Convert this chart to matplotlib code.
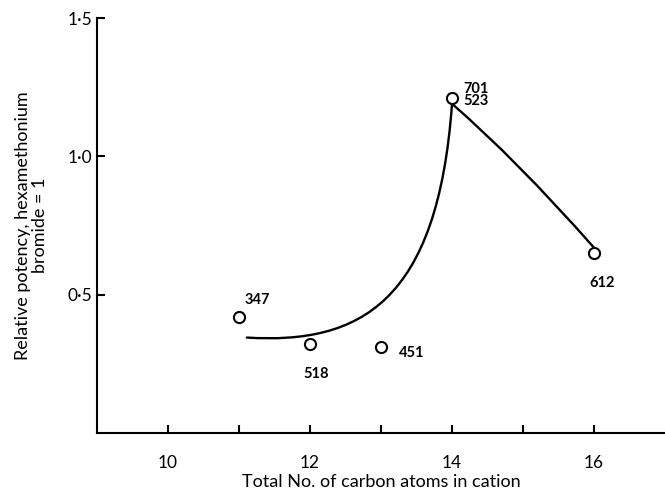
import numpy as np
import matplotlib
matplotlib.use("Agg")
import matplotlib.pyplot as plt
from matplotlib.path import Path
from matplotlib.patches import PathPatch

plt.rcParams['font.family'] = ['Lato', 'DejaVu Sans']

# measured points (carbon atoms, relative potency)
carbons = [11, 12, 13, 14, 16]
potency = [0.42, 0.32, 0.31, 1.21, 0.65]
point_labels = ["347", "518", "451", "701\n523", "612"]

# hand-drawn trend curve as bezier control points
# left branch (cubic): start, ctrl, ctrl, peak ; right branch (quadratic): ctrl, end
curve_x = [11.11, 12.7, 13.8, 14.0, 14.9, 16.0]
curve_y = [0.345, 0.32, 0.47, 1.19, 0.99, 0.67]
curve_codes = [Path.MOVETO, Path.CURVE4, Path.CURVE4, Path.CURVE4,
               Path.CURVE3, Path.CURVE3]

xticks = [10, 12, 14, 16]
xminor = [11, 13, 15]
yticks = [0.5, 1.0, 1.5]
ytick_labels = ["0·5", "1·0", "1·5"]

fig = plt.figure(figsize=(6.65, 4.91), dpi=100)
ax = fig.add_axes([0.1459, 0.1181, 0.8541, 0.8452])

trend = Path(np.column_stack([curve_x, curve_y]), curve_codes)
ax.add_patch(PathPatch(trend, fill=False, edgecolor='black', lw=1.7,
                       capstyle='round'))
ax.plot(carbons, potency, 'o', ms=8, mfc='white', mec='black', mew=1.5, zorder=3)

# label offsets in points
offsets = [(4, 9), (-5, -24), (13, -7), (8, -5), (-3, -24)]
for x, y, t, off in zip(carbons, potency, point_labels, offsets):
    ax.annotate(t, (x, y), xytext=off, textcoords='offset points',
                fontsize=10.5, fontweight='bold', linespacing=0.85)

ax.set_xlim(9, 17)
ax.set_ylim(0, 1.5)
ax.set_xticks(xticks)
ax.set_xticks(xminor, minor=True)
ax.set_yticks(yticks)
ax.set_yticklabels(ytick_labels)
ax.tick_params(axis='both', direction='in', labelsize=12.5, width=1.5, length=6)
ax.tick_params(axis='x', which='minor', direction='in', width=1.5, length=6)
ax.tick_params(axis='x', pad=16)

for s in ['top', 'right']:
    ax.spines[s].set_visible(False)
for s in ['left', 'bottom']:
    ax.spines[s].set_linewidth(1.5)

ax.set_xlabel("Total No. of carbon atoms in cation", fontsize=13, labelpad=2)
ax.set_ylabel("Relative potency, hexamethonium\nbromide = 1", fontsize=13,
              labelpad=14, linespacing=1.1)

fig.savefig("out.png", dpi=100)
